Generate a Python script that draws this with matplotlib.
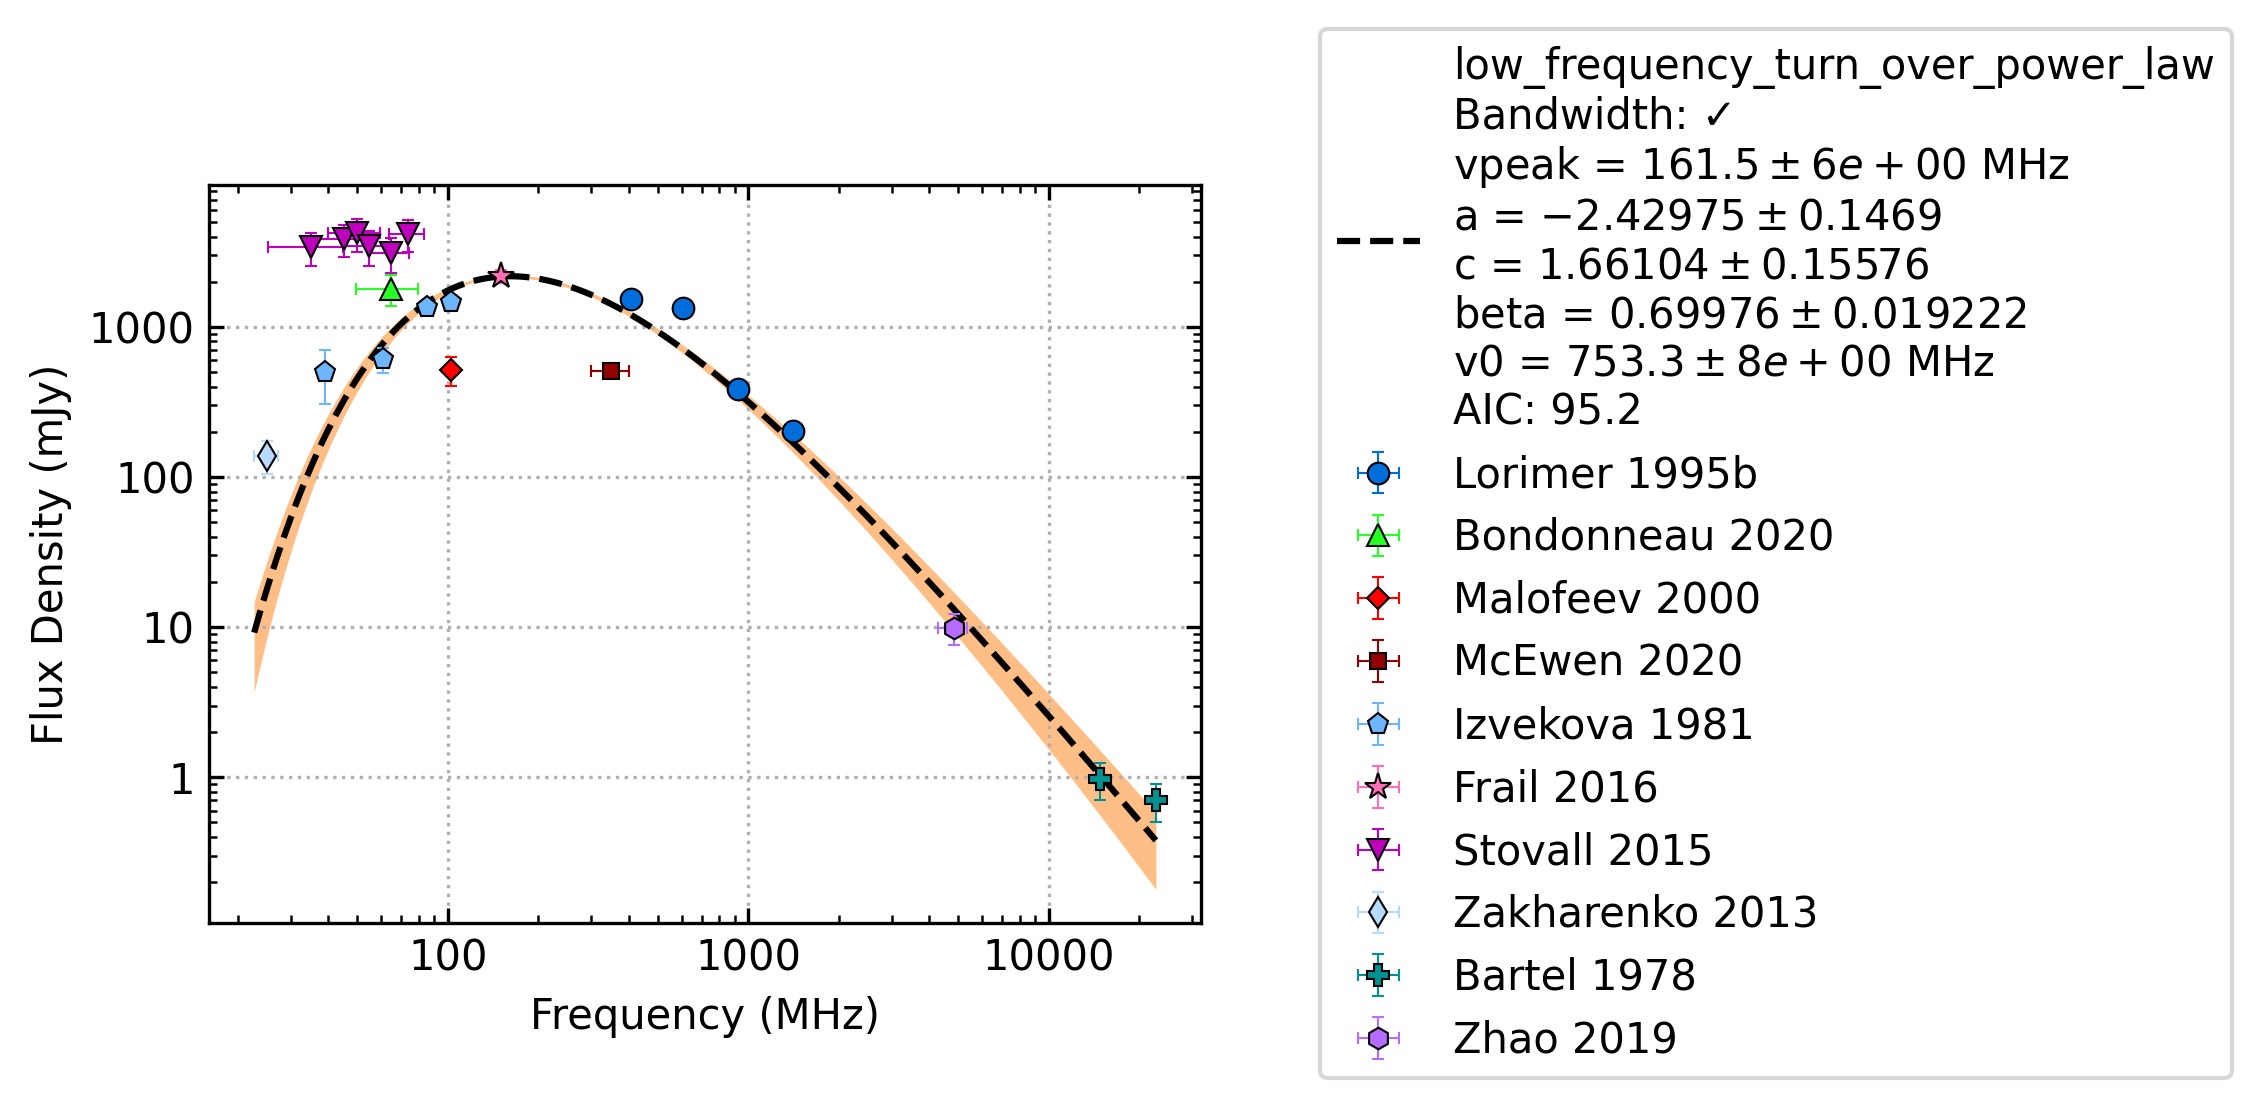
import numpy as np
import matplotlib
matplotlib.use("Agg")
import matplotlib.pyplot as plt
from matplotlib.ticker import FuncFormatter, NullFormatter, LogLocator

# ---------------- data ----------------
lorimer_freq = [408, 606, 925, 1408]
lorimer_flux = [1524, 1330, 388, 204]
lorimer_xerr = [0, 0, 0, 0]
lorimer_yerr = [120, 100, 30, 28]

bondonneau_freq = [64.5]
bondonneau_flux = [1800]
bondonneau_xerr = [15]
bondonneau_yerr = [420]

malofeev_freq = [102.5]
malofeev_flux = [516]
malofeev_xerr = [0]
malofeev_yerr = [113]

mcewen_freq = [350]
mcewen_flux = [512]
mcewen_xerr = [50]
mcewen_yerr = [30]

izvekova_freq = [39, 61, 85, 102.5]
izvekova_flux = [502, 608, 1362, 1472]
izvekova_xerr = [0, 0, 0, 0]
izvekova_yerr = [195, 115, 140, 150]

frail_freq = [150]
frail_flux = [2178]
frail_xerr = [0]
frail_yerr = [220]

stovall_freq = [35.1, 45.0, 49.8, 54.8, 64.5, 73.6]
stovall_flux = [3400, 3850, 4200, 3450, 3100, 4150]
stovall_xerr = [9.8, 9.8, 9.8, 9.8, 9.8, 9.8]
stovall_yerr = [850, 920, 1070, 900, 830, 1020]

zakharenko_freq = [25]
zakharenko_flux = [139]
zakharenko_xerr = [2.3]
zakharenko_yerr = [34]

bartel_freq = [14800, 22700]
bartel_flux = [0.97, 0.70]
bartel_xerr = [0, 0]
bartel_yerr = [0.27, 0.20]

zhao_freq = [4820]
zhao_flux = [9.9]
zhao_xerr = [540]
zhao_yerr = [2.3]

# fit parameters (low_frequency_turn_over_power_law)
vpeak, vpeak_err = 161.5, 6.0
a_idx, a_err = -2.42975, 0.1469
c_val, c_err = 1.66104, 0.15576
beta, beta_err = 0.69976, 0.019222
v0, v0_err = 753.3, 8.0
aic = 95.2

datasets = [
    ("Lorimer 1995b", lorimer_freq, lorimer_flux, lorimer_xerr, lorimer_yerr, "#006ddb", "o", 5.2),
    ("Bondonneau 2020", bondonneau_freq, bondonneau_flux, bondonneau_xerr, bondonneau_yerr, "#24ff24", "^", 5.5),
    ("Malofeev 2000", malofeev_freq, malofeev_flux, malofeev_xerr, malofeev_yerr, "r", "D", 3.9),
    ("McEwen 2020", mcewen_freq, mcewen_flux, mcewen_xerr, mcewen_yerr, "#920000", "s", 3.9),
    ("Izvekova 1981", izvekova_freq, izvekova_flux, izvekova_xerr, izvekova_yerr, "#6db6ff", "p", 5.2),
    ("Frail 2016", frail_freq, frail_flux, frail_xerr, frail_yerr, "#ff6db6", "*", 6.8),
    ("Stovall 2015", stovall_freq, stovall_flux, stovall_xerr, stovall_yerr, "m", "v", 5.5),
    ("Zakharenko 2013", zakharenko_freq, zakharenko_flux, zakharenko_xerr, zakharenko_yerr, "#b6dbff", "d", 5.2),
    ("Bartel 1978", bartel_freq, bartel_flux, bartel_xerr, bartel_yerr, "#009292", "P", 5.5),
    ("Zhao 2019", zhao_freq, zhao_flux, zhao_xerr, zhao_yerr, "#b66dff", "h", 5.2),
]


def model(v, vp, a, c, b, ref):
    x = v / ref
    xpeak = vp / ref
    return c * x ** a * np.exp(a / b * (x / xpeak) ** (-b)) * 1000.0  # mJy


# ---------------- figure ----------------
DPI = 300
fig = plt.figure(figsize=(2263 / DPI, 1109 / DPI), dpi=DPI)
ax = fig.add_axes([0.0924, 0.1677, 0.4383, 0.6655])

all_lo = min(f - xe for _, fr, _, xr, _, _, _, _ in datasets for f, xe in zip(fr, xr))
all_hi = max(f + xe for _, fr, _, xr, _, _, _, _ in datasets for f, xe in zip(fr, xr) if f > 10000)
fit_freq = np.logspace(np.log10(all_lo), np.log10(all_hi), 200)
fit_flux = model(fit_freq, vpeak, a_idx, c_val, beta, v0)
d_a = (model(fit_freq, vpeak, a_idx + a_err, c_val, beta, v0)
       - model(fit_freq, vpeak, a_idx - a_err, c_val, beta, v0)) / 2
d_vb = (model(fit_freq, vpeak + vpeak_err, a_idx, c_val, beta + beta_err, v0)
        - model(fit_freq, vpeak - vpeak_err, a_idx, c_val, beta - beta_err, v0)) / 2
sig = np.sqrt(d_a ** 2 + d_vb ** 2)

ax.fill_between(fit_freq, fit_flux - sig, fit_flux + sig, color="C1", alpha=0.5,
                linewidth=0, zorder=1)

fit_label = ("low_frequency_turn_over_power_law\n"
             "Bandwidth: \u2713\n"
             f"vpeak = ${vpeak:.1f} \\pm {vpeak_err:.0e}$ MHz\n"
             f"a = ${a_idx:.5f} \\pm {a_err:.4f}$\n"
             f"c = ${c_val:.5f} \\pm {c_err:.5f}$\n"
             f"beta = ${beta:.5f} \\pm {beta_err:.6f}$\n"
             f"v0 = ${v0:.1f} \\pm {v0_err:.0e}$ MHz\n"
             f"AIC: {aic:.1f}")
fit_line, = ax.plot(fit_freq, fit_flux, "--", color="k", lw=1.5, zorder=2, label=fit_label)

handles = [fit_line]
for name, fr, fl, xe, ye, col, mk, ms in datasets:
    h = ax.errorbar(fr, fl, xerr=xe, yerr=ye, fmt=mk, color=col, ms=ms, mec="k",
                    mew=0.5, elinewidth=0.5, capthick=0.5, capsize=1.5,
                    linestyle="none", label=name, zorder=3)
    handles.append(h)

ax.set_xscale("log")
ax.set_yscale("log")
fmt = FuncFormatter(lambda v, p: f"{v:g}")
ax.xaxis.set_major_formatter(fmt)
ax.yaxis.set_major_formatter(fmt)
ax.xaxis.set_minor_formatter(NullFormatter())
ax.yaxis.set_minor_formatter(NullFormatter())
ax.xaxis.set_minor_locator(LogLocator(base=10, subs=np.arange(2, 10), numticks=20))
ax.yaxis.set_minor_locator(LogLocator(base=10, subs=np.arange(2, 10), numticks=20))

ax.tick_params(which="both", direction="in", top=True, right=True, labelsize=10)
ax.tick_params(which="major", length=3.5, width=0.8)
ax.tick_params(which="minor", length=2, width=0.6)
ax.grid(True, which="major", linestyle=":", color="#b0b0b0", linewidth=0.8)

ax.set_xlabel("Frequency (MHz)", fontsize=10)
ax.set_ylabel("Flux Density (mJy)", fontsize=10)

ax.legend(handles=handles, labels=[h.get_label() for h in handles],
          loc="upper left", bbox_to_anchor=(0.5833, 0.9738),
          bbox_transform=fig.transFigure, borderaxespad=0, fontsize=10)

fig.savefig("out.png", dpi=DPI)
